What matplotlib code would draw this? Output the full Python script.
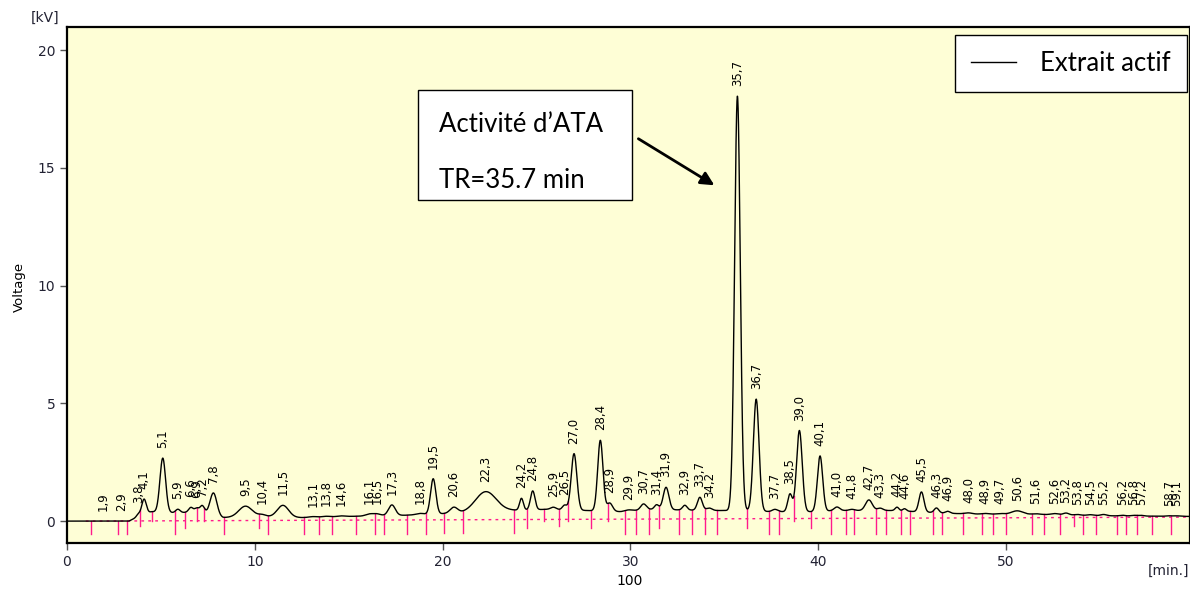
import matplotlib
matplotlib.use('Agg')

import matplotlib.pyplot as plt
from matplotlib.patches import Rectangle
import numpy as np

# ------------------------------------------------------------
# Peak table (min, kV above baseline, width)
# ------------------------------------------------------------
peak_rt = [1.9, 2.9, 3.8, 4.1, 5.1, 5.9, 6.6, 6.9, 7.2, 7.8, 9.5, 10.4, 11.5,
           13.1, 13.8, 14.6, 16.1, 16.5, 17.3, 18.8, 19.5, 20.6, 22.3,
           24.2, 24.8, 25.9, 26.5, 27.0, 28.4, 28.9, 29.9, 30.7, 31.4,
           31.9, 32.9, 33.7, 34.2, 35.7, 36.7, 37.7, 38.5, 39.0, 40.1,
           41.0, 41.8, 42.7, 43.3, 44.2, 44.6, 45.5, 46.3, 46.9, 48.0,
           48.9, 49.7, 50.6, 51.6, 52.6, 53.2, 53.8, 54.5, 55.2, 56.2,
           56.8, 57.2, 58.7, 59.1]
peak_h = [0.0, 0.0, 0.1, 0.65, 2.3, 0.15, 0.2, 0.15, 0.3, 0.95, 0.45, 0.08, 0.5,
          0.03, 0.03, 0.03, 0.08, 0.08, 0.45, 0.05, 1.5, 0.25, 0.85,
          0.5, 0.8, 0.1, 0.2, 2.4, 3.0, 0.35, 0.05, 0.25, 0.2,
          0.95, 0.2, 0.55, 0.1, 17.6, 4.75, 0.1, 0.75, 3.45, 2.35,
          0.15, 0.05, 0.45, 0.1, 0.15, 0.1, 0.85, 0.2, 0.08, 0.05,
          0.03, 0.03, 0.15, 0.03, 0.05, 0.08, 0.03, 0.03, 0.05, 0.03,
          0.03, 0.03, 0.02, 0.02]
peak_w = [0.1, 0.1, 0.1, 0.12, 0.15, 0.12, 0.12, 0.1, 0.12, 0.18, 0.35, 0.2, 0.3,
          0.2, 0.2, 0.2, 0.2, 0.2, 0.18, 0.2, 0.14, 0.2, 0.55,
          0.1, 0.12, 0.15, 0.12, 0.15, 0.14, 0.15, 0.2, 0.15, 0.12,
          0.15, 0.12, 0.13, 0.15, 0.15, 0.15, 0.15, 0.12, 0.15, 0.14,
          0.15, 0.15, 0.18, 0.15, 0.1, 0.1, 0.13, 0.12, 0.12, 0.2,
          0.2, 0.2, 0.3, 0.2, 0.2, 0.15, 0.15, 0.15, 0.15, 0.15,
          0.15, 0.15, 0.15, 0.15]

# baseline level under the peaks
base_t = [0, 3.3, 3.8, 4.5, 5.8, 7.0, 8.3, 10.0, 12.5, 15, 18, 21, 23.5,
          25.5, 27.7, 29.5, 31, 34.5, 36.2, 37.5, 39.6, 41, 44, 46.5, 48,
          52, 56, 59.8]
base_v = [0, 0, 0.2, 0.4, 0.35, 0.4, 0.15, 0.2, 0.15, 0.2, 0.25, 0.35, 0.45,
          0.5, 0.45, 0.4, 0.5, 0.45, 0.45, 0.4, 0.4, 0.45, 0.45, 0.35, 0.3,
          0.28, 0.22, 0.2]

# integration marks (peak start / end)
cut_t = [1.3, 2.7, 3.2, 3.9, 4.5, 5.75, 6.3, 6.9, 7.3, 8.35, 10.2, 10.7,
         12.6, 13.4, 14.1, 15.4, 16.4, 16.9, 18.1, 19.1, 20.1, 21.1, 23.8,
         24.5, 25.4, 26.2, 26.7, 27.9, 28.8, 29.7, 30.3, 31.0, 31.5, 32.6,
         33.3, 34.0, 34.6, 36.2, 37.4, 37.9, 38.7, 39.6, 40.7, 41.5, 41.9,
         43.1, 43.6, 44.4, 44.9, 46.1, 46.6, 47.7, 48.7, 49.3, 50.0, 51.4,
         52.0, 52.9, 53.6, 54.1, 54.8, 55.9, 56.4, 57.0, 57.8, 58.8]
cut_low = [-0.55, -0.55, -0.55, -0.2, 0.0, -0.55, -0.3, 0.0, 0.0, -0.55,
           -0.3, -0.55, -0.55, -0.55, -0.55, -0.55, -0.55, -0.55, -0.55,
           -0.55, -0.5, -0.5, -0.5, -0.3, 0.0, -0.2, 0.0, -0.3, 0.0, -0.55,
           -0.55, -0.55, -0.3, -0.55, -0.55, -0.55, -0.55, -0.3, -0.55,
           -0.55, 0.0, -0.3, -0.55, -0.55, -0.55, -0.55, -0.55, -0.55,
           -0.55, -0.55, -0.55, -0.55, -0.55, -0.55, -0.55, -0.55, -0.55,
           -0.55, -0.2, -0.55, -0.55, -0.55, -0.55, -0.55, -0.55, -0.55]

# ------------------------------------------------------------
# Signal
# ------------------------------------------------------------
t = np.linspace(0, 59.8, 6000)
signal = np.interp(t, base_t, base_v)
for rt, h, w in zip(peak_rt, peak_h, peak_w):
    signal += h * np.exp(-0.5 * ((t - rt) / w) ** 2)

plt.rcParams['font.family'] = ['DejaVu Sans']

fig = plt.figure(figsize=(11.9, 5.93), dpi=100)
ax = fig.add_axes([0.0563, 0.0843, 0.9437, 0.870])
ax.set_facecolor('#FEFED6')

pink = '#FF1A8C'
ax.plot([1.0, 59.8], [0.0, 0.17], color=pink, lw=1.0, ls=(0, (2, 3)), zorder=2)
for ct, lo in zip(cut_t, cut_low):
    top = np.interp(ct, t, signal)
    ax.plot([ct, ct], [lo, top], color=pink, lw=1.0, zorder=2)

line, = ax.plot(t, signal, color='black', lw=1.0, zorder=3, label='Extrait actif')

# peak labels
for rt in peak_rt:
    y = np.interp(rt, t, signal) + 0.42
    ax.text(rt, y, f'{rt:.1f}'.replace('.', ','), rotation=90,
            ha='center', va='bottom', fontsize=8.5, zorder=4)

ax.set_xlim(0, 59.8)
ax.set_ylim(-0.93, 20.98)
ax.set_xticks([0, 10, 20, 30, 40, 50])
ax.set_yticks([0, 5, 10, 15, 20])
ax.tick_params(axis='both', direction='out', length=5, width=1,
               color='#555555', labelsize=10, labelcolor='#222233')
for s in ax.spines.values():
    s.set_linewidth(1.6)
    s.set_color('black')

fig.text(0.038, 0.97, '[kV]', fontsize=10, color='#222233', ha='center', va='center')
fig.text(0.016, 0.516, 'Voltage', fontsize=9.5, rotation=90, ha='center', va='center')
fig.text(0.529, 0.009, '100', fontsize=10, ha='center', va='bottom')
fig.text(0.999, 0.026, '[min.]', fontsize=10, ha='right', va='bottom', color='#222233')

# legend
leg = ax.legend(handles=[line], loc='upper right', bbox_to_anchor=(0.9973, 0.9845),
                frameon=True, fancybox=False, handlelength=1.75, handletextpad=0.95,
                borderpad=0.63, borderaxespad=0.0,
                prop={'family': 'Lato', 'size': 18.5})
leg.get_frame().set_edgecolor('black')
leg.get_frame().set_linewidth(1.0)
leg.get_frame().set_alpha(1)

# annotation box
ax.add_patch(Rectangle((18.67, 13.63), 11.43, 4.67, facecolor='white',
                       edgecolor='black', lw=1.0, zorder=5))
ax.text(19.8, 16.86, 'Activité d’ATA', fontsize=18.5, family='Lato',
        va='center', ha='left', zorder=6)
ax.text(19.8, 14.48, 'TR=35.7 min', fontsize=18.5, family='Lato',
        va='center', ha='left', zorder=6)
ax.annotate('', xy=(34.6, 14.2), xytext=(30.3, 16.3),
            arrowprops=dict(arrowstyle='-|>', color='black', lw=2,
                            mutation_scale=20), zorder=6)

fig.savefig('out.png', dpi=100)
